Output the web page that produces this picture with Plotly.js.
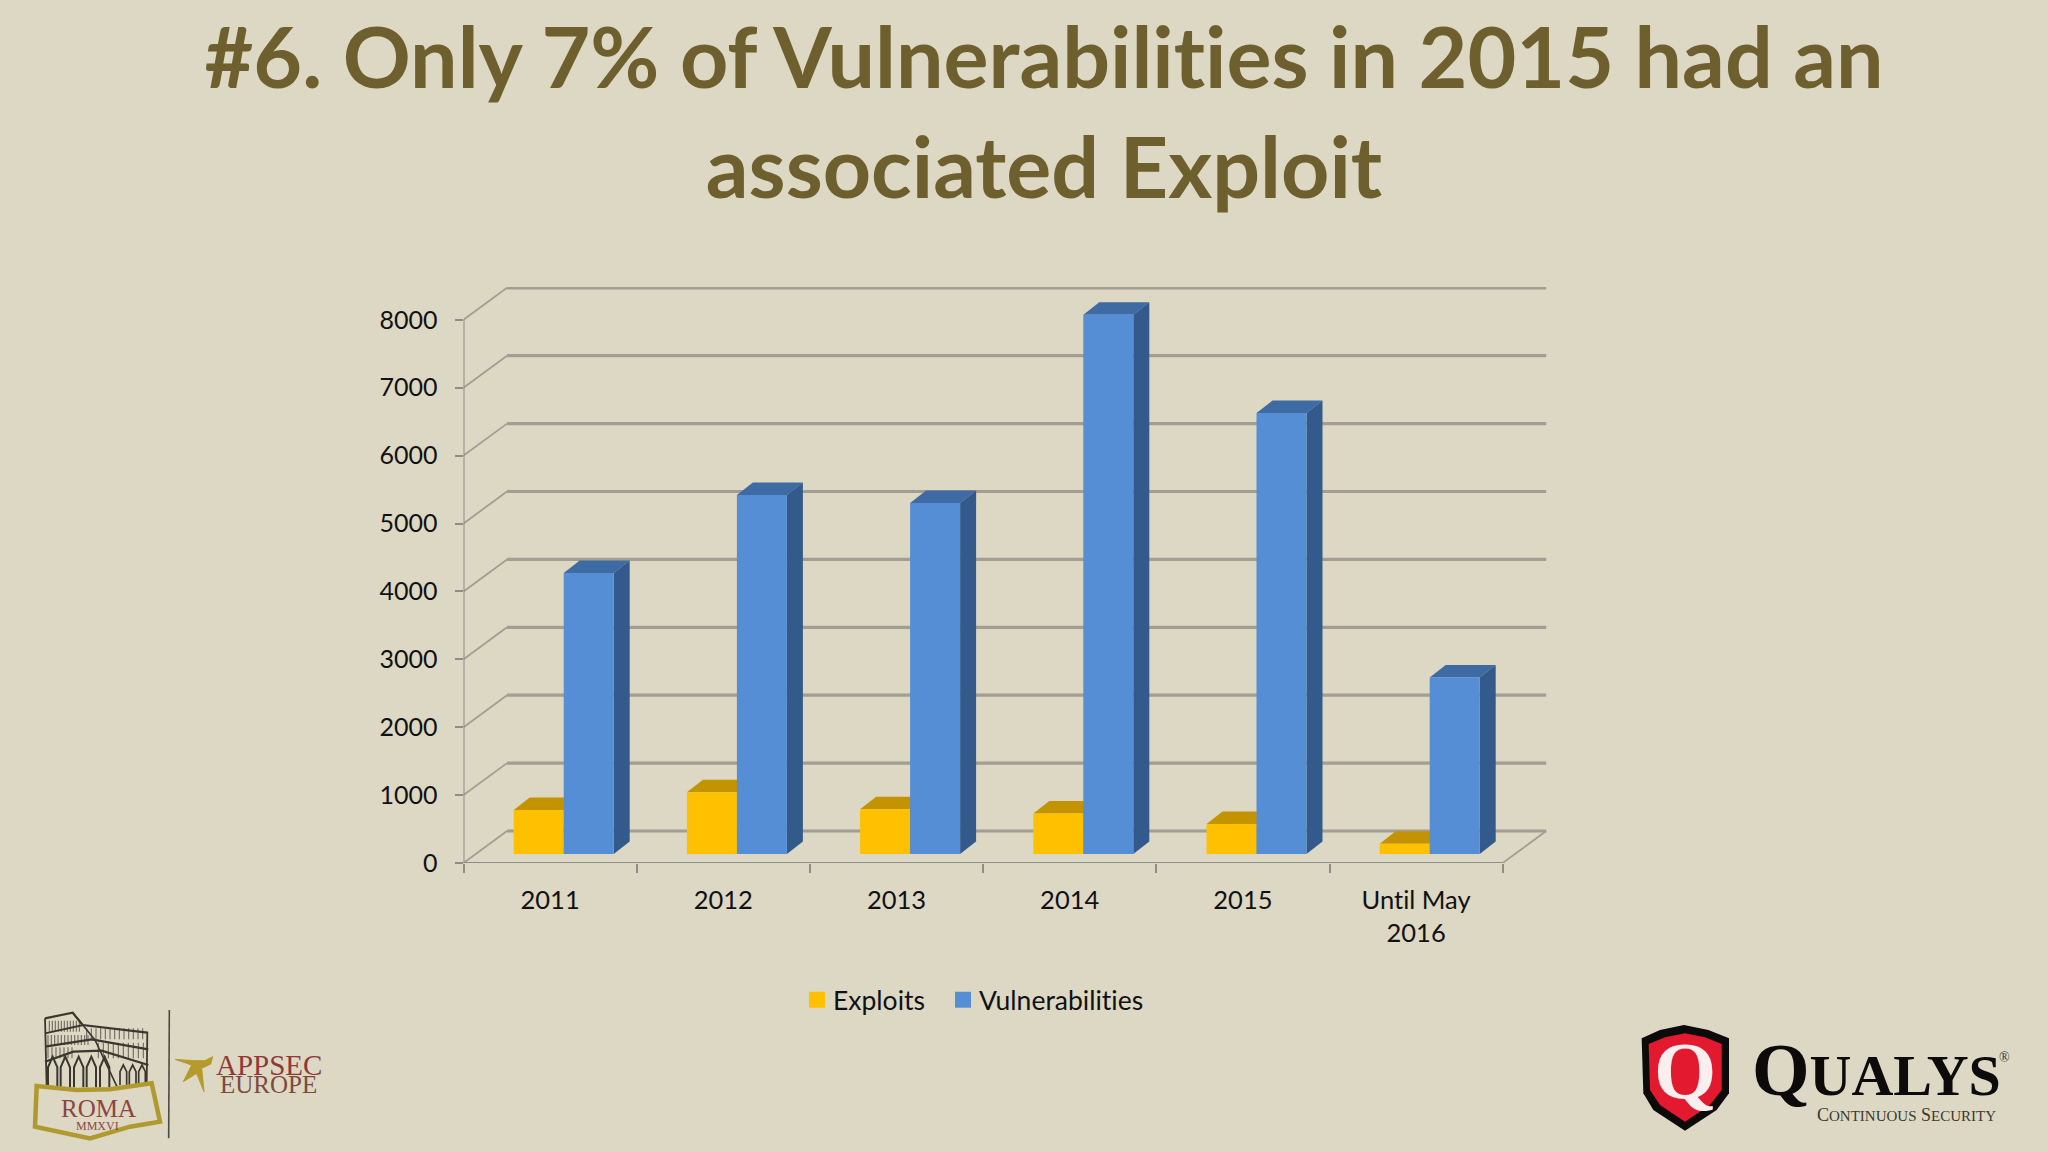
<!DOCTYPE html>
<html>
<head>
<meta charset="utf-8">
<script src="https://cdn.plot.ly/plotly-3.0.1.min.js"></script>
<style>html,body{margin:0;padding:0;background:#ddd8c3} #chart svg text{font-variant-ligatures:none !important;font-feature-settings:"liga" 0,"clig" 0 !important}</style>
</head>
<body>
<div id="chart" style="width:2048px;height:1152px"></div>
<script>
// ---- chart data ----
const categories = ["2011", "2012", "2013", "2014", "2015", "Until May<br>2016"];
const exploits = [648, 909, 660, 595, 442, 152];
const vulnerabilities = [4140, 5287, 5170, 7940, 6495, 2600];
const yTicks = [0, 1000, 2000, 3000, 4000, 5000, 6000, 7000, 8000];
const seriesNames = ["Exploits", "Vulnerabilities"];

// ---- styles ----
const W = 2048, H = 1152;
const BG = "#ddd8c3";
const GRID = "#a29e94", AXIS = "#8e8d87";
const FRONT = ["#ffc000", "#558ed5"];
const TOP = ["#c49400", "#3f6ba5"];
const SIDE = ["#b58900", "#335a8a"];

const UNIT_X = 173.2, UNIT_Y = 0.0679;           // px per category, px per value
const X_LEFT = 463.5, X_RIGHT = 1547, Y_BOTTOM = 863, Y_TOP = 287;
const xMax = 5.5 + 44.3 / UNIT_X, yMax = (Y_BOTTOM - Y_TOP) / UNIT_Y;
const wallDX = 43.5 / UNIT_X, wallDY = 32 / UNIT_Y;
const barShiftX = 13.6 / UNIT_X, barShiftY = 9 / UNIT_Y;
const barW = 50 / UNIT_X, faceDX = 16 / UNIT_X, faceDY = 12.5 / UNIT_Y;

const px = x => x / W, py = y => 1 - y / H;
const pathOf = pts => "M" + pts.map(p => p[0] + "," + p[1]).join("L") + "Z";
const lineShape = (x0, y0, x1, y1, color, width) => ({type: "line", layer: "below", xref: "x", yref: "y", x0, y0, x1, y1, line: {color, width}});
const shapes = [];

// back wall, wall diagonals, axis lines
yTicks.forEach(v => {
  shapes.push(lineShape(-0.5 + wallDX, v + wallDY, 5.5 + wallDX, v + wallDY, GRID, 3.2));
  shapes.push(lineShape(-0.5, v, -0.5 + wallDX, v + wallDY, GRID, 1.8));
});
shapes.push(lineShape(5.5, 0, 5.5 + wallDX, wallDY, GRID, 1.8));
shapes.push(lineShape(-0.5, 0, -0.5, 8000, AXIS, 2));
shapes.push(lineShape(-0.5, 0, 5.5, 0, AXIS, 2));

// 3D top and side faces of the bars, derived from the values
[exploits, vulnerabilities].forEach((vals, s) => {
  vals.forEach((v, i) => {
    const xl = i + (s - 1) * barW, xr = xl + barW;
    shapes.push({type: "path", layer: "below", xref: "x2", yref: "y2", fillcolor: TOP[s], line: {width: 0},
      path: pathOf([[xl, v], [xl + faceDX, v + faceDY], [xr + faceDX, v + faceDY], [xr, v]])});
    shapes.push({type: "path", layer: "below", xref: "x2", yref: "y2", fillcolor: SIDE[s], line: {width: 0},
      path: pathOf([[xr, 0], [xr + faceDX, faceDY], [xr + faceDX, v + faceDY], [xr, v]])});
  });
});

// ---- logo decoration, in page pixels ----
const deco = (d, opts) => shapes.push(Object.assign({type: "path", layer: "above", xref: "paper", yref: "paper", path: d, line: {width: 0}}, opts));
const poly = (pts, ox, oy, close) => "M" + pts.map(p => px(ox + p[0] / 3) + "," + py(oy + p[1] / 3)).join("L") + (close ? "Z" : "");
const zl = (pts, color, width, close, fill) => deco(poly(pts, 20, 990, close), {line: {color, width}, fillcolor: fill || "rgba(0,0,0,0)"});
// colosseum
const DK = "#3a372f", HATCH = "#6d695f";
[88, 97, 106, 115, 124, 133, 142, 151, 160, 169, 178].forEach(x => zl([[x, 92], [x, 125]], HATCH, 1.1));
[84, 94, 104, 114, 124, 134, 144, 154, 164, 174, 184, 194, 204].forEach(x => zl([[x, 135], [x, 165]], HATCH, 1.1));
[84, 96, 108, 120, 132, 144, 156].forEach(x => zl([[x, 172], [x, 205]], HATCH, 1.1));
[200, 214, 228, 242, 256, 270, 284, 298, 312, 326, 340, 354, 368].forEach(x => zl([[x, 115], [x, 148]], HATCH, 1.1));
[235, 250, 265, 280, 295, 310, 325, 340, 355, 370].forEach(x => zl([[x, 158], [x, 205]], HATCH, 1.1));
zl([[75, 85], [158, 68], [188, 105], [382, 128]], DK, 2.2);
zl([[75, 130], [190, 105]], DK, 1.8);
zl([[75, 170], [215, 148], [385, 178]], DK, 2.2);
zl([[75, 215], [160, 185], [245, 182], [385, 225]], DK, 2.2);
zl([[75, 85], [80, 290]], DK, 1.8);
zl([[382, 125], [380, 280]], DK, 1.8);
zl([[158, 68], [225, 150], [292, 292]], DK, 1.6);
[84, 122, 162, 200, 240].forEach(x => deco(
  poly([[x, 292], [x, 232], [x + 14, 200], [x + 28, 232], [x + 28, 292]], 20, 990),
  {line: {color: DK, width: 2}, fillcolor: "rgba(0,0,0,0)"}));
[300, 328, 356].forEach(x => deco(
  poly([[x, 285], [x, 245], [x + 10, 225], [x + 20, 245], [x + 20, 285]], 20, 990),
  {line: {color: DK, width: 1.7}, fillcolor: "rgba(0,0,0,0)"}));
// banner
zl([[50, 288], [170, 300], [270, 298], [395, 280], [420, 395], [330, 410], [210, 445], [45, 410]], "#b09a30", 4.5, true, BG);
// divider
zl([[448, 60], [446, 445]], "#4d4a44", 1.6);
// wasp
zl([[465, 208], [520, 212], [555, 212], [578, 200], [572, 222], [545, 235], [552, 305], [530, 250], [490, 275], [515, 225]], "#b59a2c", 1, true, "#b59a2c");
// shield
const zq = (pts, fill) => deco(poly(pts, 1620, 1010, true), {fillcolor: fill});
zq([[65, 85], [120, 60], [192, 45], [265, 60], [327, 85], [327, 250], [290, 300], [195, 362], [100, 300], [70, 250]], "#0c0a0a");
zq([[86, 102], [135, 82], [195, 70], [255, 82], [305, 102], [305, 240], [270, 285], [195, 335], [120, 285], [90, 240]], "#e3192f");

const ann = (text, x, y, size, color, family, extra) => Object.assign({
  text, x: px(x), y: py(y), xref: "paper", yref: "paper", showarrow: false,
  xanchor: "center", yanchor: "middle", font: {size, color, family}}, extra || {});
const SERIF = "Liberation Serif";
const annotations = [
  ann("ROMA", 98, 1108, 25, "#8f4444", SERIF),
  ann("MMXVI", 97, 1126, 12, "#8f4444", SERIF),
  ann("APPSEC", 269, 1065, 29, "#8f3a3a", SERIF),
  ann("EUROPE", 268, 1084, 25, "#7d4a3e", SERIF),
  ann("Q", 1685, 1071, 80, "#fbeeee", SERIF, {font: {size: 80, color: "#fbeeee", family: SERIF, weight: 700}}),
  ann('<span style="font-size:74px">Q</span>UALYS', 1876, 1070, 58, "#0c0a0a", SERIF, {font: {size: 58, color: "#0c0a0a", family: SERIF, weight: 700}}),
  ann("®", 2004, 1057, 14, "#333333", SERIF),
  ann('C<span style="font-size:15px">ONTINUOUS</span> S<span style="font-size:15px">ECURITY</span>', 1906, 1115, 18, "#3a382f", SERIF)
];

// ---- traces ----
const traces = [
  {type: "scatter", mode: "none", x: categories, y: categories.map(() => 0), xaxis: "x", yaxis: "y", showlegend: false, hoverinfo: "skip"},
  {type: "bar", name: seriesNames[0], x: categories, y: exploits, xaxis: "x2", yaxis: "y2", marker: {color: FRONT[0]}},
  {type: "bar", name: seriesNames[1], x: categories, y: vulnerabilities, xaxis: "x2", yaxis: "y2", marker: {color: FRONT[1]}}
];

const layout = {
  width: W, height: H,
  paper_bgcolor: BG, plot_bgcolor: "rgba(0,0,0,0)",
  margin: {l: 0, r: 0, t: 0, b: 0},
  title: {
    text: "#6. Only 7% of Vulnerabilities in 2015 had an<br>associated Exploit",
    x: px(1044), xref: "paper", xanchor: "center", y: py(88), yref: "container", yanchor: "top",
    font: {family: "Lato", size: 84.3, weight: 700, color: "#6e5f2f"}
  },
  barmode: "group", bargap: 1 - 2 * barW, bargroupgap: 0,
  xaxis: {
    type: "category", domain: [px(X_LEFT), px(X_RIGHT)], range: [-0.5, xMax],
    categoryorder: "array", categoryarray: categories,
    tickson: "boundaries", ticks: "outside", ticklen: 9, tickwidth: 2, tickcolor: AXIS,
    showgrid: false, zeroline: false, showline: false,
    tickfont: {family: "Lato", size: 25.5, color: "#111111"}, ticklabelstandoff: 19
  },
  yaxis: {
    domain: [py(Y_BOTTOM), py(Y_TOP)], range: [0, yMax],
    tickmode: "array", tickvals: yTicks, ticktext: yTicks.map(String),
    ticks: "outside", ticklen: 8, tickwidth: 2, tickcolor: AXIS,
    showgrid: false, zeroline: false, showline: false,
    tickfont: {family: "Lato", size: 25, color: "#111111"}, ticklabelstandoff: 12
  },
  xaxis2: {
    type: "category", overlaying: "x", anchor: "y2", domain: [px(X_LEFT), px(X_RIGHT)],
    categoryorder: "array", categoryarray: categories,
    range: [-0.5 - barShiftX, xMax - barShiftX], visible: false
  },
  yaxis2: {
    overlaying: "y", anchor: "x2", domain: [py(Y_BOTTOM), py(Y_TOP)],
    range: [-barShiftY, yMax - barShiftY], visible: false
  },
  legend: {
    orientation: "h", x: px(793), y: py(1000), xanchor: "left", yanchor: "middle",
    bgcolor: "rgba(0,0,0,0)", font: {family: "Lato", size: 26.5, color: "#111111"},
    traceorder: "normal", entrywidth: 101, entrywidthmode: "pixels"
  },
  shapes, annotations, showlegend: true
};

Plotly.newPlot("chart", traces, layout, {displayModeBar: false, staticPlot: true}).then(() => {
  document.querySelectorAll("#chart .legendpoints path").forEach(p => p.setAttribute("transform", "translate(24,0) scale(1.33)"));
  document.querySelectorAll("#chart .legend [clip-path]").forEach(n => n.removeAttribute("clip-path"));
});
</script>
</body>
</html>
